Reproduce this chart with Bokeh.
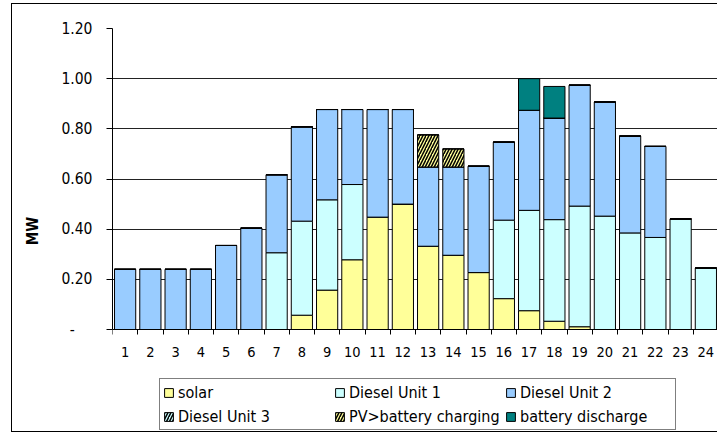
from bokeh.plotting import figure
from bokeh.models import ColumnDataSource, Range1d, FixedTicker, Legend, LegendItem
from bokeh.embed import file_html
from bokeh.resources import INLINE

hours = list(range(1, 25))
solar = [0, 0, 0, 0, 0, 0, 0, 0.057, 0.157, 0.278, 0.448, 0.500, 0.332, 0.296,
         0.227, 0.123, 0.075, 0.033, 0.011, 0, 0, 0, 0, 0]
diesel1 = [0, 0, 0, 0, 0, 0, 0.306, 0.375, 0.360, 0.300, 0, 0, 0, 0,
           0, 0.313, 0.400, 0.405, 0.481, 0.452, 0.385, 0.367, 0.441, 0.245]
diesel2 = [0.240, 0.240, 0.240, 0.240, 0.335, 0.404, 0.311, 0.376, 0.360, 0.299,
           0.429, 0.377, 0.316, 0.352, 0.424, 0.311, 0.399, 0.405, 0.482, 0.455,
           0.386, 0.363, 0, 0]
diesel3 = [0, 0, 0, 0, 0, 0, 0, 0, 0, 0, 0, 0, 0, 0, 0, 0, 0, 0, 0, 0, 0, 0, 0, 0]
pv_charging = [0, 0, 0, 0, 0, 0, 0, 0, 0, 0, 0, 0, 0.128, 0.072,
               0, 0, 0, 0, 0, 0, 0, 0, 0, 0]
battery = [0, 0, 0, 0, 0, 0, 0, 0, 0, 0, 0, 0, 0, 0,
           0, 0, 0.126, 0.126, 0, 0, 0, 0, 0, 0]

series_keys = ["solar", "diesel1", "diesel2", "diesel3", "pv_charging", "battery"]
series_labels = ["solar", "Diesel Unit 1", "Diesel Unit 2", "Diesel Unit 3",
                 "PV>battery charging", "battery discharge"]
y_ticks = [0, 0.2, 0.4, 0.6, 0.8, 1.0, 1.2]
y_tick_labels = ["-\u00a0\u00a0\u00a0\u00a0", "0.20", "0.40", "0.60", "0.80", "1.00", "1.20"]

fills = ["#FFFF99", "#CCFFFF", "#99CCFF", "#CCFFFF", "#FFFF99", "#008080"]
hatches = [" ", " ", " ", "/", "/", " "]

FONT = "DejaVu Sans Condensed"

source = ColumnDataSource(dict(hour=hours, solar=solar, diesel1=diesel1,
                               diesel2=diesel2, diesel3=diesel3,
                               pv_charging=pv_charging, battery=battery))

# frame spans the canvas bottom; value 0 sits 104 px above it (room for labels and legend)
y_bottom = -104 * 1.2 / 301
p = figure(width=706, height=429, x_range=Range1d(0.5, 24.5),
           y_range=Range1d(y_bottom, 1.2),
           output_backend="svg", toolbar_location=None,
           min_border_left=100, min_border_right=0, min_border_top=24,
           min_border_bottom=0)
p.styles = {"margin-top": "3px", "margin-left": "11px",
            "border-left": "1px solid #000", "border-top": "1px solid #000",
            "border-bottom": "1px solid #000"}
p.outline_line_color = None
p.background_fill_color = "white"
p.border_fill_color = "white"

renderers = p.vbar_stack(series_keys, x="hour", width=0.84, source=source,
                         fill_color=fills, line_color="black", line_width=1,
                         hatch_pattern=hatches, hatch_color="black",
                         hatch_scale=6, hatch_weight=1.5)

# axes
p.xaxis.fixed_location = 0
p.xaxis.ticker = FixedTicker(ticks=hours, minor_ticks=[h - 0.5 for h in hours] + [24.5])
p.xaxis.major_tick_out = 0
p.xaxis.major_tick_in = 0
p.xaxis.minor_tick_out = 5
p.xaxis.minor_tick_in = 0
p.xaxis.minor_tick_line_color = "black"
p.xaxis.axis_line_color = "black"
p.xaxis.major_label_standoff = 12
p.xaxis.major_label_text_font = FONT
p.xaxis.major_label_text_font_size = "14.5px"
p.xaxis.major_label_text_color = "black"

p.yaxis.bounds = (0, 1.2)
p.yaxis.ticker = FixedTicker(ticks=y_ticks)
p.yaxis.major_label_overrides = {t: l for t, l in zip(y_ticks, y_tick_labels)}
p.yaxis.major_tick_out = 6
p.yaxis.major_tick_in = 0
p.yaxis.minor_tick_line_color = None
p.yaxis.axis_line_color = "black"
p.yaxis.major_tick_line_color = "black"
p.yaxis.major_label_standoff = 14
p.yaxis.major_label_text_font = FONT
p.yaxis.major_label_text_font_size = "15.5px"
p.yaxis.major_label_text_color = "black"
p.yaxis.axis_label = "MW"
p.yaxis.axis_label_text_font = FONT
p.yaxis.axis_label_text_font_style = "bold"
p.yaxis.axis_label_text_font_size = "15px"
p.yaxis.axis_label_text_color = "black"
p.yaxis.axis_label_standoff = 16

p.xgrid.visible = False
p.ygrid.grid_line_color = "#222222"
p.ygrid.grid_line_width = 1

legend = Legend(items=[LegendItem(label=lab, renderers=[r])
                       for lab, r in zip(series_labels, renderers)],
                location=(47, 3), orientation="horizontal", ncols=3,
                border_line_color="black", border_line_width=1,
                background_fill_color="white", background_fill_alpha=1,
                padding=3, spacing=4, margin=0, glyph_width=11, glyph_height=11,
                label_standoff=4, label_width=152, label_height=20,
                label_text_font=FONT, label_text_font_size="16px",
                label_text_color="black")
p.add_layout(legend, "center")

open("out.html", "w").write(file_html(p, INLINE))
